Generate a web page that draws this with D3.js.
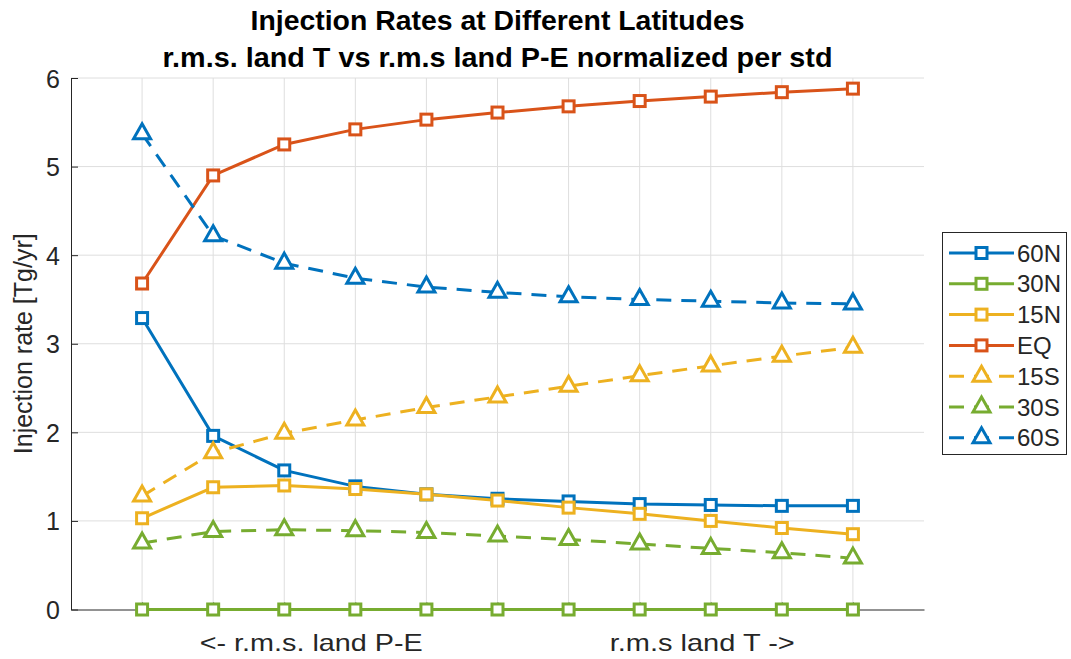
<!DOCTYPE html>
<html>
<head>
<meta charset="utf-8">
<script src="https://cdn.jsdelivr.net/npm/d3@7/dist/d3.min.js"></script>
<style>
  body { margin: 0; background: #fff; }
  text { font-family: "Liberation Sans", Arial, sans-serif; }
</style>
</head>
<body>
<div id="svgCanvas"></div>
<script>
// data
var steps = [1, 2, 3, 4, 5, 6, 7, 8, 9, 10, 11];
var seriesNames = ["60N", "30N", "15N", "EQ", "15S", "30S", "60S"];
var v60N = [3.29, 1.96, 1.57, 1.39, 1.30, 1.25, 1.22, 1.19, 1.18, 1.17, 1.17];
var v30N = [0, 0, 0, 0, 0, 0, 0, 0, 0, 0, 0];
var v15N = [1.03, 1.38, 1.40, 1.36, 1.30, 1.23, 1.15, 1.08, 1.00, 0.92, 0.85];
var vEQ  = [3.68, 4.90, 5.25, 5.42, 5.53, 5.61, 5.68, 5.74, 5.79, 5.84, 5.88];
var v15S = [1.28, 1.77, 1.99, 2.14, 2.28, 2.40, 2.52, 2.64, 2.75, 2.86, 2.96];
var v30S = [0.75, 0.88, 0.90, 0.89, 0.87, 0.83, 0.79, 0.74, 0.69, 0.64, 0.58];
var v60S = [5.37, 4.22, 3.91, 3.74, 3.64, 3.58, 3.53, 3.50, 3.48, 3.46, 3.45];
var yTicks = [0, 1, 2, 3, 4, 5, 6];
var xNotes = ["<- r.m.s. land P-E", "r.m.s land T ->"];

var width = 1071,
    height = 659;

var plot = { left: 71, right: 924, top: 78, bottom: 609.5 };

var colours = {
    blue: "#0072BD",
    orange: "#D95319",
    yellow: "#EDB120",
    green: "#77AC30",
    axis: "#262626",
    grid: "#dedede"
};

var series = [
    { name: seriesNames[0], values: v60N, color: colours.blue,   dashed: false, marker: "square" },
    { name: seriesNames[1], values: v30N, color: colours.green,  dashed: false, marker: "square" },
    { name: seriesNames[2], values: v15N, color: colours.yellow, dashed: false, marker: "square" },
    { name: seriesNames[3], values: vEQ,  color: colours.orange, dashed: false, marker: "square" },
    { name: seriesNames[4], values: v15S, color: colours.yellow, dashed: true,  marker: "triangle" },
    { name: seriesNames[5], values: v30S, color: colours.green,  dashed: true,  marker: "triangle" },
    { name: seriesNames[6], values: v60S, color: colours.blue,   dashed: true,  marker: "triangle" }
];

var svg = d3.select("#svgCanvas")
    .append("svg")
    .attr("width", width)
    .attr("height", height);

svg.append("rect")
    .attr("width", width)
    .attr("height", height)
    .attr("fill", "#fff");

var xScale = d3.scaleLinear()
    .domain([0, 12])
    .range([plot.left, plot.right]);

var yScale = d3.scaleLinear()
    .domain([0, 6])
    .range([plot.bottom, plot.top]);

// grid
var grid = svg.append("g").attr("class", "grid");
grid.selectAll("line.h")
    .data(yTicks.slice(1))
    .enter().append("line")
    .attr("x1", plot.left)
    .attr("x2", plot.right)
    .attr("y1", function(d) { return yScale(d); })
    .attr("y2", function(d) { return yScale(d); })
    .attr("stroke", colours.grid)
    .attr("stroke-width", 1);

grid.selectAll("line.v")
    .data(steps)
    .enter().append("line")
    .attr("x1", function(d) { return xScale(d); })
    .attr("x2", function(d) { return xScale(d); })
    .attr("y1", plot.top)
    .attr("y2", plot.bottom)
    .attr("stroke", colours.grid)
    .attr("stroke-width", 1);

// axes (MATLAB style: ticks inside)
var yAxis = d3.axisLeft(yScale)
    .tickValues(yTicks)
    .tickFormat(d3.format("d"))
    .tickSizeInner(-7)
    .tickSizeOuter(0)
    .tickPadding(11);

var gY = svg.append("g")
    .attr("class", "yAxis")
    .attr("transform", "translate(" + plot.left + ",0)")
    .call(yAxis);

gY.select(".domain").attr("stroke", colours.axis);
gY.selectAll(".tick line").attr("stroke", colours.axis);
gY.selectAll(".tick text")
    .attr("fill", colours.axis)
    .style("font-size", "25px")
    .style("font-family", "Liberation Sans, Arial, sans-serif")
    .attr("dy", "0.36em");

var xAxis = d3.axisBottom(xScale)
    .tickValues(steps)
    .tickSizeInner(-7)
    .tickSizeOuter(0)
    .tickFormat("");

var gX = svg.append("g")
    .attr("class", "xAxis")
    .attr("transform", "translate(0," + plot.bottom + ")")
    .call(xAxis);

gX.select(".domain").attr("stroke", colours.axis);
gX.selectAll(".tick line").attr("stroke", colours.axis);

// x notes
var noteWidths = [223, 185];
svg.selectAll("text.xnote")
    .data(xNotes)
    .enter().append("text")
    .attr("class", "xnote")
    .attr("x", function(d, i) { return xScale(i === 0 ? 3.38 : 8.88); })
    .attr("y", 651)
    .attr("text-anchor", "middle")
    .attr("fill", colours.axis)
    .attr("textLength", function(d, i) { return noteWidths[i]; })
    .attr("lengthAdjust", "spacingAndGlyphs")
    .style("font-size", "24px")
    .text(function(d) { return d; });

// y label
svg.append("text")
    .attr("transform", "translate(32," + ((plot.top + plot.bottom) / 2) + ") rotate(-90)")
    .attr("text-anchor", "middle")
    .attr("fill", colours.axis)
    .style("font-size", "25px")
    .text("Injection rate [Tg/yr]");

// title
var titleLines = ["Injection Rates at Different Latitudes",
                  "r.m.s. land T vs r.m.s land P-E normalized per std"];
var titleWidths = [494, 670];
svg.selectAll("text.title")
    .data(titleLines)
    .enter().append("text")
    .attr("class", "title")
    .attr("x", (plot.left + plot.right) / 2)
    .attr("y", function(d, i) { return 30 + i * 36.5; })
    .attr("text-anchor", "middle")
    .attr("fill", "#000")
    .attr("textLength", function(d, i) { return titleWidths[i]; })
    .attr("lengthAdjust", "spacingAndGlyphs")
    .style("font-size", "27px")
    .style("font-weight", "bold")
    .text(function(d) { return d; });

// markers
var sq = 11, triW = 17, triH = 15;
function drawMarker(sel, type, color) {
    if (type === "square") {
        sel.append("rect")
            .attr("x", -sq / 2)
            .attr("y", -sq / 2)
            .attr("width", sq)
            .attr("height", sq)
            .attr("fill", "#fff")
            .attr("stroke", color)
            .attr("stroke-width", 3);
    } else {
        sel.append("path")
            .attr("d", "M0," + (-triH * 2 / 3) + "L" + (triW / 2) + "," + (triH / 3) + "L" + (-triW / 2) + "," + (triH / 3) + "Z")
            .attr("fill", "#fff")
            .attr("stroke", color)
            .attr("stroke-width", 3)
            .attr("stroke-linejoin", "miter");
    }
}

var line = d3.line()
    .x(function(d, i) { return xScale(steps[i]); })
    .y(function(d) { return yScale(d); });

series.forEach(function(s) {
    var g = svg.append("g").attr("class", "series");
    g.append("path")
        .datum(s.values)
        .attr("d", line)
        .attr("fill", "none")
        .attr("stroke", s.color)
        .attr("stroke-width", 3)
        .attr("stroke-dasharray", s.dashed ? "15,10" : null);

    g.selectAll("g.pt")
        .data(s.values)
        .enter().append("g")
        .attr("class", "pt")
        .attr("transform", function(d, i) { return "translate(" + xScale(steps[i]) + "," + yScale(d) + ")"; })
        .each(function() { drawMarker(d3.select(this), s.marker, s.color); });
});

// legend
var legend = svg.append("g").attr("class", "legend");
legend.append("rect")
    .attr("x", 942.5)
    .attr("y", 232.5)
    .attr("width", 124)
    .attr("height", 222)
    .attr("fill", "#fff")
    .attr("stroke", colours.axis)
    .attr("stroke-width", 1);

var items = legend.selectAll("g.item")
    .data(series)
    .enter().append("g")
    .attr("class", "item")
    .attr("transform", function(d, i) { return "translate(0," + (253 + i * 30.8) + ")"; });

items.append("line")
    .attr("x1", 949)
    .attr("x2", 1014)
    .attr("stroke", function(d) { return d.color; })
    .attr("stroke-width", 3)
    .attr("stroke-dasharray", function(d) { return d.dashed ? "15,10" : null; });

items.each(function(d) {
    var m = d3.select(this).append("g").attr("transform", "translate(981.5,0)");
    drawMarker(m, d.marker, d.color);
});

items.append("text")
    .attr("x", 1017)
    .attr("y", 0)
    .attr("dy", "0.36em")
    .attr("fill", colours.axis)
    .style("font-size", "24px")
    .text(function(d) { return d.name; });
</script>
</body>
</html>
